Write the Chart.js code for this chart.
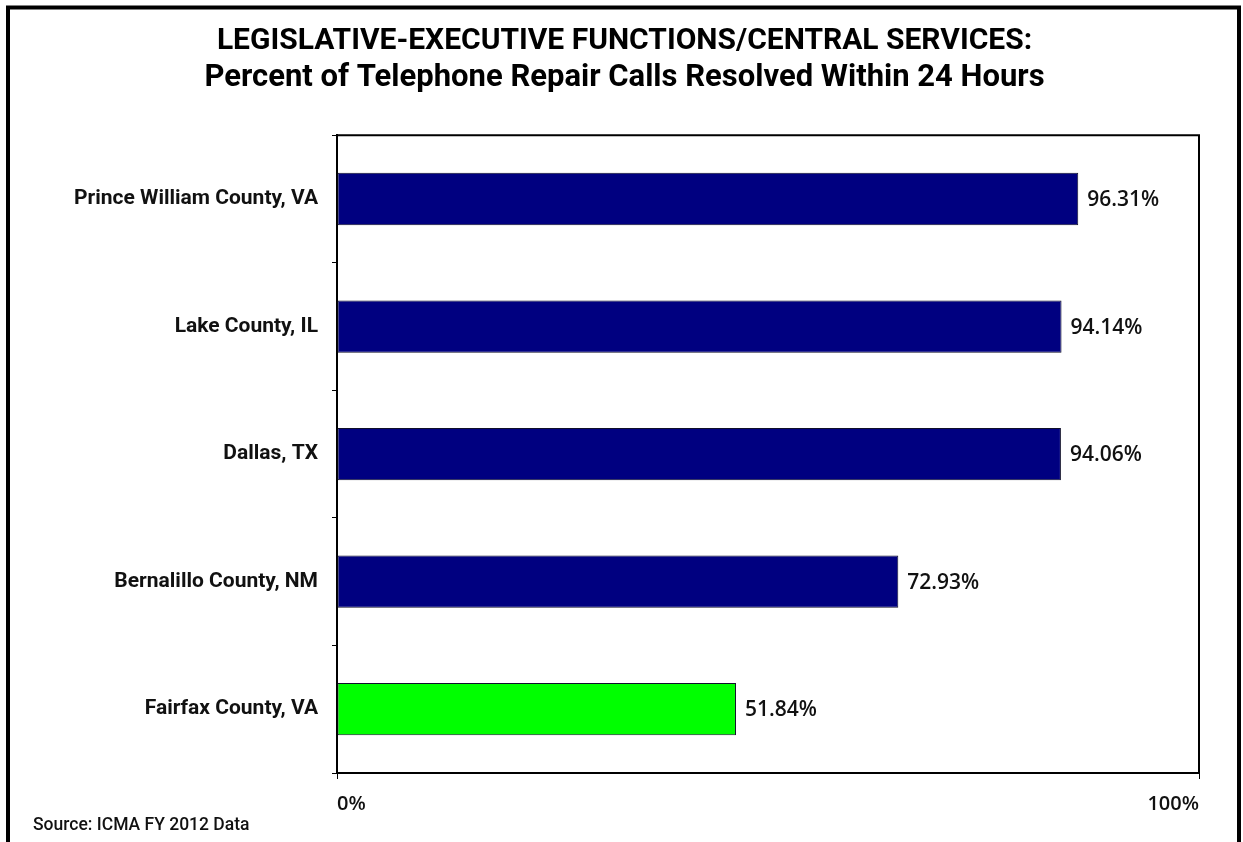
<!DOCTYPE html>
<html>
<head>
<meta charset="utf-8">
<script src="https://cdn.jsdelivr.net/npm/chart.js@4.4.1/dist/chart.umd.min.js"></script>
<style>
  html, body { margin: 0; padding: 0; background: #fff; }
  #wrap { width: 1243px; height: 842px; }
</style>
</head>
<body>
<div id="wrap"><canvas id="chart" width="1243" height="842"></canvas></div>
<script>
/* ICMA FY 2012 – share of telephone repair calls closed within a day */
const categories = ['Prince William County, VA', 'Lake County, IL', 'Dallas, TX', 'Bernalillo County, NM', 'Fairfax County, VA'];
const percentResolved = [96.31, 94.14, 94.06, 72.93, 51.84];
const barColors = ['#000080', '#000080', '#000080', '#000080', '#00ff00'];
const xTickLabels = ['0%', '100%'];
const titleLines = ['LEGISLATIVE-EXECUTIVE FUNCTIONS/CENTRAL SERVICES:', 'Percent of Telephone Repair Calls Resolved Within 24 Hours'];
const sourceNote = 'Source: ICMA FY 2012 Data';
const AXIS_MAX = 112;

const NARROW = 'Roboto, "Liberation Sans", sans-serif';
const WIDE = '"Open Sans", "Liberation Sans", sans-serif';

// outer frame, closed plot box, value labels and the source line
const decorations = {
  id: 'decorations',
  afterDatasetsDraw(chart) {
    const { ctx } = chart;
    const meta = chart.getDatasetMeta(0);
    ctx.save();
    ctx.fillStyle = '#111';
    ctx.font = '600 21px ' + WIDE;
    ctx.textAlign = 'left';
    ctx.textBaseline = 'middle';
    meta.data.forEach((bar, i) => {
      ctx.fillText(percentResolved[i].toFixed(2) + '%', bar.x + 9, bar.y + 1);
    });
    ctx.restore();
  },
  afterDraw(chart) {
    const { ctx, chartArea: a } = chart;
    ctx.save();
    ctx.strokeStyle = '#000';
    ctx.lineWidth = 2;
    ctx.beginPath();
    ctx.moveTo(a.left, a.top);
    ctx.lineTo(a.right, a.top);
    ctx.lineTo(a.right, a.bottom);
    ctx.stroke();

    ctx.lineWidth = 4;
    ctx.strokeRect(8, 7.5, 1231, 850);

    ctx.fillStyle = '#111';
    ctx.font = '500 17.5px ' + NARROW;
    ctx.textAlign = 'left';
    ctx.textBaseline = 'alphabetic';
    ctx.fillText(sourceNote, 33, 830);
    ctx.restore();
  }
};

new Chart(document.getElementById('chart'), {
  type: 'bar',
  data: {
    labels: categories,
    datasets: [{
      data: percentResolved,
      backgroundColor: barColors,
      borderColor: '#10102a',
      borderWidth: 1,
      borderSkipped: false,
      barPercentage: 0.41,
      categoryPercentage: 1
    }]
  },
  options: {
    indexAxis: 'y',
    responsive: false,
    animation: false,
    layout: { padding: { left: 50, right: 44, top: 0, bottom: 0 } },
    plugins: {
      legend: { display: false },
      tooltip: { enabled: false },
      title: {
        display: true,
        text: titleLines[0],
        color: '#000',
        font: { family: NARROW, size: 30, weight: 'bold' },
        padding: { top: 23, bottom: 0 }
      },
      subtitle: {
        display: true,
        text: titleLines[1],
        color: '#000',
        font: { family: NARROW, size: 31, weight: 'bold' },
        padding: { top: 1, bottom: 38 }
      }
    },
    scales: {
      x: {
        min: 0,
        max: AXIS_MAX,
        afterBuildTicks: s => { s.ticks = [{ value: 0 }, { value: AXIS_MAX }]; },
        afterFit: s => { s.height = 69; },
        grid: { drawOnChartArea: false, tickLength: 6, color: '#000' },
        border: { color: '#000', width: 2 },
        ticks: {
          callback: (v, i) => xTickLabels[i],
          align: 'inner',
          color: '#111',
          padding: 13,
          font: { family: WIDE, size: 20, weight: '600' }
        }
      },
      y: {
        afterFit: s => { s.width = 287; },
        grid: { drawOnChartArea: false, tickLength: 5, color: '#000', offset: true },
        border: { color: '#000', width: 2 },
        ticks: {
          color: '#111',
          padding: 14,
          font: { family: NARROW, size: 21, weight: 'bold' }
        }
      }
    }
  },
  plugins: [decorations]
});
</script>
</body>
</html>
